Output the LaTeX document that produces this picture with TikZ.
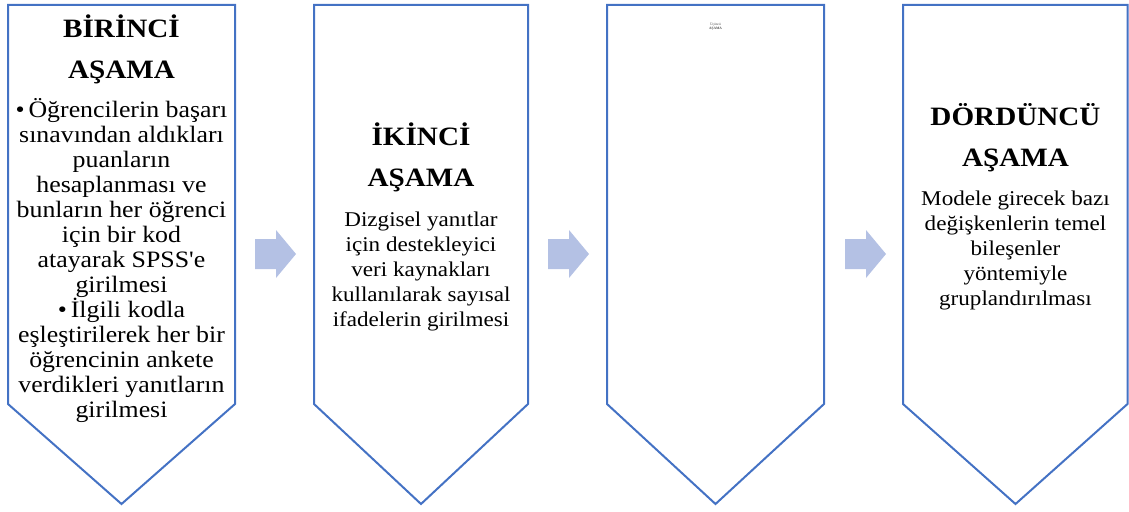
\documentclass[tikz,border=0pt]{standalone}
\usepackage{fontspec}
\setmainfont{Liberation Serif}[Ligatures=TeXOff]
\newfontfamily\widefont{Liberation Serif}[Ligatures=TeXOff,FakeStretch=1.1]
\definecolor{edgeblue}{HTML}{4472C4}
\definecolor{arrowfill}{HTML}{B4C1E4}
\tikzset{
	stage/.style={draw=edgeblue,line width=2pt,line join=miter},
	title/.style={anchor=base,align=center,font=\widefont\fontsize{26.5}{41}\selectfont\bfseries},
	body/.style={anchor=base,align=center,font=\widefont\fontsize{21}{25}\selectfont},
	bigbody/.style={body,font=\widefont\fontsize{23.5}{25}\selectfont},
	tiny/.style={anchor=base,align=center,font=\fontsize{3.5}{4.8}\selectfont,text=black!70},
	nextarrow/.pic={\fill[arrowfill] (0,-15) -- (21,-15) -- (21,-24) -- (41,0)
		-- (21,24) -- (21,15) -- (0,15) -- cycle;}
}
\begin{document}
\begin{tikzpicture}[x=1pt,y=-1pt]
	\useasboundingbox (0,0) rectangle (1129,511);
	% the four stages
	\draw[stage] (8,5) -- (235,5) -- (235,404) -- (121.5,504) -- (8,404) -- cycle;
	\draw[stage] (314,5) -- (528,5) -- (528,404) -- (421,504) -- (314,404) -- cycle;
	\draw[stage] (607,5) -- (824,5) -- (824,404) -- (715.5,504) -- (607,404) -- cycle;
	\draw[stage] (903,5) -- (1127.5,5) -- (1127.5,404) -- (1015.5,504) -- (903,404) -- cycle;
	% texts (anchored at the baseline of their last line)
	\node[title] (t1) at (121.5,78) {BİRİNCİ\\AŞAMA};
	\node[bigbody] (b1) at (121.5,417) {\textbullet\,Öğrencilerin başarı\\
		sınavından aldıkları\\puanların\\hesaplanması ve\\bunların her öğrenci\\
		için bir kod\\atayarak SPSS'e\\girilmesi\\\textbullet\,İlgili kodla\\
		eşleştirilerek her bir\\öğrencinin ankete\\verdikleri yanıtların\\girilmesi};
	\node[title] (t2) at (421,186) {İKİNCİ\\AŞAMA};
	\node[body] (b2) at (421,326) {Dizgisel yanıtlar\\için destekleyici\\veri kaynakları\\
		kullanılarak sayısal\\ifadelerin girilmesi};
	\node[tiny] (t3) at (715.5,30) {Üçüncü\\\textbf{AŞAMA}};
	\node[title] (t4) at (1015.5,166) {DÖRDÜNCÜ\\AŞAMA};
	\node[body] (b4) at (1015.5,305) {Modele girecek bazı\\değişkenlerin temel\\bileşenler\\
		yöntemiyle\\gruplandırılması};
	% arrows between stages
	\pic (a1) at (255,254) {nextarrow};
	\pic (a2) at (548,254) {nextarrow};
	\pic (a3) at (845,254) {nextarrow};
\end{tikzpicture}
\end{document}
